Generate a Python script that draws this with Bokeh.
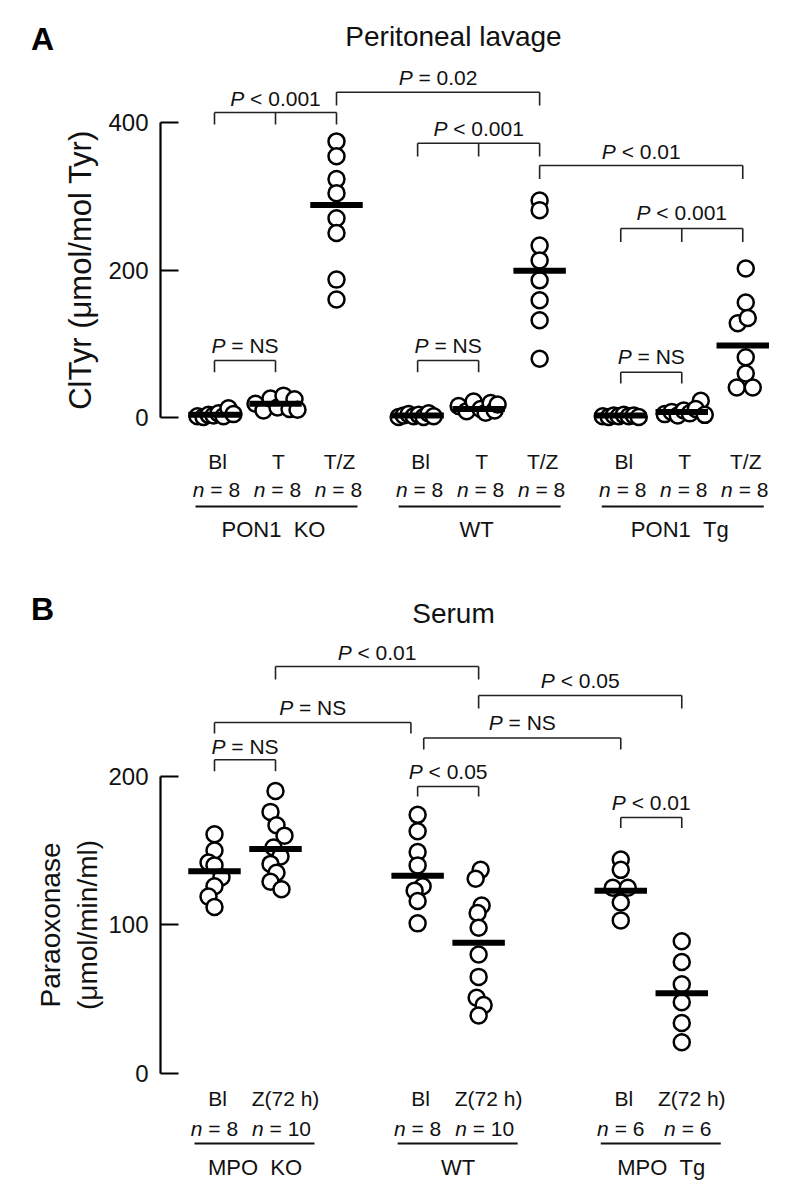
from bokeh.plotting import figure
from bokeh.models import Range1d, LinearAxis, FixedTicker
from bokeh.core.properties import value
from bokeh.embed import file_html
from bokeh.resources import INLINE

# ------------------------------------------------------------------ data
# Panel A: peritoneal lavage ClTyr (umol/mol Tyr)
genotypes_A = ["PON1\u00a0\u00a0KO", "WT", "PON1\u00a0\u00a0Tg"]
treatments_A = ["Bl", "T", "T/Z"]
n_A = [8, 8, 8, 8, 8, 8, 8, 8, 8]
ko_bl = [2, 1, 4, 3, 6, 2, 13, 5]
ko_t = [19, 10, 26, 14, 30, 12, 25, 11]
ko_tz = [374, 354, 323, 304, 270, 250, 187, 160]
wt_bl = [1, 3, 5, 2, 4, 1, 6, 2]
wt_t = [16, 9, 22, 12, 7, 20, 10, 18]
wt_tz = [294, 281, 233, 213, 186, 159, 132, 80]
tg_bl = [2, 1, 3, 2, 4, 2, 3, 1]
tg_t = [5, 8, 3, 10, 6, 23, 12, 4]
tg_tz = [202, 156, 128, 135, 82, 60, 41, 41]
means_A = [4, 19, 288, 3, 12, 199, 3, 8, 98]
# horizontal scatter of overlapping points (pixels)
jit_ko_bl = [-17, -11, -6, -1, 4, 9, 14, 19]
jit_ko_t = [-20, -12, -5, 2, 8, 14, 19, 22]
jit_ko_tz = [0, 0, 0, 0, 0, 0, 0, 0]
jit_wt_bl = [-19, -14, -9, -4, 1, 6, 11, 16]
jit_wt_t = [-20, -12, -5, 2, 7, 12, 16, 19]
jit_wt_tz = [0, 0, 0, 0, 0, 0, 0, 0]
jit_tg_bl = [-18, -12, -7, -2, 3, 8, 13, 18]
jit_tg_t = [-17, -10, -4, 2, 8, 19, 14, 23]
jit_tg_tz = [3, 3, -5, 5, 3, 3, -6, 10]
ticks_A = [0, 200, 400]
pvals_A = ["P < 0.001", "P = 0.02", "P < 0.001", "P < 0.01", "P < 0.001",
           "P = NS", "P = NS", "P = NS"]

# Panel B: serum paraoxonase (umol/min/ml)
genotypes_B = ["MPO\u00a0\u00a0KO", "WT", "MPO\u00a0\u00a0Tg"]
treatments_B = ["Bl", "Z(72 h)"]
n_B = [8, 10, 8, 10, 6, 6]
mko_bl = [161, 150, 142, 140, 132, 126, 119, 112]
mko_z = [190, 176, 167, 160, 152, 146, 141, 135, 129, 124]
mwt_bl = [174, 163, 149, 140, 126, 123, 116, 101]
mwt_z = [137, 131, 113, 108, 98, 80, 65, 51, 46, 39]
mtg_bl = [144, 137, 125, 125, 115, 103]
mtg_z = [89, 75, 60, 48, 34, 21]
means_B = [136, 151, 133, 88, 123, 54]
jit_mko_bl = [0, 0, -6, 0, 7, 0, -6, 0]
jit_mko_z = [0, -5, 1, 9, -2, 5, -5, 1, -5, 6]
jit_mwt_bl = [0, 0, 0, 0, 5, -3, 0, 0]
jit_mwt_z = [2, -3, 3, -1, 0, 0, 0, -2, 5, 0]
jit_mtg_bl = [0, 0, -8, 7, 0, 0]
jit_mtg_z = [0, 0, 0, 0, 0, 0]
ticks_B = [0, 100, 200]
pvals_B = ["P < 0.01", "P < 0.05", "P = NS", "P = NS", "P = NS", "P < 0.05", "P < 0.01"]

# ------------------------------------------------------------------ layout helpers
FONT = "Liberation Sans"
W, H = 781, 1180
ORIGIN = 0         # page offset of the canvas (measured)
PX = 61.0          # pixels per column unit
X0 = 214.0         # page x of first column
GAP = 3.33         # column units between genotype groups
A_Y0, A_K = 417.3, 0.739
B_Y0, B_K = 1073.0, 1.4865


def xd(px):
    return (px - X0) / PX


def ya(py):
    return (A_Y0 - py) / A_K


def yb(py):
    return (B_Y0 - py) / B_K


def col(g, c):
    return g * GAP + c


p = figure(width=W, height=H, output_backend="svg", toolbar_location=None,
           x_range=Range1d(xd(ORIGIN), xd(ORIGIN + W)),
           y_range=Range1d(ya(ORIGIN + H), ya(ORIGIN)),
           x_axis_type=None, y_axis_type=None, min_border=0, title=None)
p.extra_y_ranges = {"b": Range1d(yb(ORIGIN + H), yb(ORIGIN))}
p.outline_line_color = None
p.background_fill_color = "white"
p.border_fill_color = "white"
p.grid.visible = False


def style_axis(axis, label, label_size, standoff):
    axis.axis_line_width = 2.2
    axis.major_tick_line_width = 2.2
    axis.major_tick_in = 18
    axis.major_tick_out = 0
    axis.minor_tick_in = 0
    axis.minor_tick_out = 0
    axis.major_label_text_font = FONT
    axis.major_label_text_font_size = "24px"
    axis.major_label_text_color = "#111"
    axis.major_label_standoff = 12
    axis.axis_label = label
    axis.axis_label_text_font = FONT
    axis.axis_label_text_font_size = label_size
    axis.axis_label_text_font_style = "normal"
    axis.axis_label_text_color = "#111"
    axis.axis_label_standoff = standoff


axA = LinearAxis(y_range_name="default", fixed_location=xd(160), bounds=(ticks_A[0], ticks_A[-1]),
                 ticker=FixedTicker(ticks=ticks_A))
style_axis(axA, "ClTyr (μmol/mol Tyr)", "31px", 7)
p.add_layout(axA, "left")

axB = LinearAxis(y_range_name="b", fixed_location=xd(160), bounds=(ticks_B[0], ticks_B[-1]),
                 ticker=FixedTicker(ticks=ticks_B))
style_axis(axB, "Paraoxonase\n(μmol/min/ml)", "28px", 2)
p.add_layout(axB, "left")

# ------------------------------------------------------------------ points
series_A = [(0, 0, ko_bl, jit_ko_bl), (0, 1, ko_t, jit_ko_t), (0, 2, ko_tz, jit_ko_tz),
            (1, 0, wt_bl, jit_wt_bl), (1, 1, wt_t, jit_wt_t), (1, 2, wt_tz, jit_wt_tz),
            (2, 0, tg_bl, jit_tg_bl), (2, 1, tg_t, jit_tg_t), (2, 2, tg_tz, jit_tg_tz)]
series_B = [(0, 0, mko_bl, jit_mko_bl), (0, 1, mko_z, jit_mko_z),
            (1, 0, mwt_bl, jit_mwt_bl), (1, 1, mwt_z, jit_mwt_z),
            (2, 0, mtg_bl, jit_mtg_bl), (2, 1, mtg_z, jit_mtg_z)]


def draw_series(series, means, rng):
    xs, ys = [], []
    for g, c, vals, jit in series:
        for v, j in zip(vals, jit):
            xs.append(col(g, c) + j / PX)
            ys.append(v)
    p.scatter(x=xs, y=ys, size=16, marker="circle", fill_color="white",
              line_color="black", line_width=2.5, y_range_name=rng)
    mx = [col(g, c) for g, c, _, _ in series]
    p.segment(x0=[m - 0.43 for m in mx], x1=[m + 0.43 for m in mx], y0=means, y1=means,
              line_color="black", line_width=6, y_range_name=rng)


draw_series(series_A, means_A, "default")
draw_series(series_B, means_B, "b")

# ------------------------------------------------------------------ brackets & p labels
CW = {'P': 667, ' ': 278, '<': 584, '=': 584, '.': 278, 'N': 722, 'S': 667, 'n': 556}


def tw(s, fs):
    return sum(CW.get(ch, 556) for ch in s) * fs / 1000.0


def italic_first(labels, xs, ys, rng, fs, color="#111"):
    ws = [tw(s, fs) for s in labels]
    p.text(x=xs, y=ys, text=[s[0] for s in labels], x_offset=[-w / 2 for w in ws],
           text_align="left", text_baseline="middle", text_font=value(FONT),
           text_font_style="italic", text_font_size=f"{fs}px", text_color=color,
           y_range_name=rng)
    rest = [s[1:].lstrip() for s in labels]
    offs = [-w / 2 + tw(s[0], fs) + (tw(" ", fs) if s[1] == " " else 0) for s, w in zip(labels, ws)]
    p.text(x=xs, y=ys, text=rest, x_offset=offs, text_align="left", text_baseline="middle",
           text_font=value(FONT), text_font_size=f"{fs}px", text_color=color, y_range_name=rng)


def draw_brackets(brackets, labels, yf, rng):
    x0, x1, y0, y1, lx, ly = [], [], [], [], [], []
    for (cols, yh, yd, yl) in brackets:
        x0.append(min(cols)); x1.append(max(cols)); y0.append(yf(yh)); y1.append(yf(yh))
        for c in cols:
            x0.append(c); x1.append(c); y0.append(yf(yh)); y1.append(yf(yd))
        lx.append((min(cols) + max(cols)) / 2)
        ly.append(yf(yl))
    p.segment(x0=x0, x1=x1, y0=y0, y1=y1, line_color="#222", line_width=1.6, y_range_name=rng)
    italic_first(labels, lx, ly, rng, 21)


brackets_A = [
    ([col(0, 0), col(0, 1), col(0, 2)], 112, 124, 98),
    ([col(0, 2), col(1, 2)], 91.7, 105, 77),
    ([col(1, 0), col(1, 1), col(1, 2)], 142.7, 156, 128),
    ([col(1, 2), col(2, 2)], 165, 178.5, 151),
    ([col(2, 0), col(2, 1), col(2, 2)], 228, 241.5, 212),
    ([col(0, 0), col(0, 1)], 360, 371.7, 345),
    ([col(1, 0), col(1, 1)], 360, 371.7, 345),
    ([col(2, 0), col(2, 1)], 371.7, 383, 356),
]
draw_brackets(brackets_A, pvals_A, ya, "default")

brackets_B = [
    ([col(0, 1), col(1, 1)], 666, 679, 652),
    ([col(1, 1), col(2, 1)], 695, 708, 680),
    ([col(0, 0), col(1, 0) - 0.11], 722, 733, 707),
    ([col(1, 0) + 0.1, col(2, 0)], 737.5, 749, 722),
    ([col(0, 0), col(0, 1)], 759.3, 770.7, 746),
    ([col(1, 0), col(1, 1)], 786, 796, 771),
    ([col(2, 0), col(2, 1)], 817, 827.5, 802),
]
draw_brackets(brackets_B, pvals_B, yb, "b")

# ------------------------------------------------------------------ category labels
# panel A
tx, tt = [], []
nx, nl = [], []
gx0, gx1, glx = [], [], []
for g in range(3):
    for c, t in enumerate(treatments_A):
        tx.append(col(g, c) + 3 / PX)
        tt.append(t)
        nx.append(col(g, c) + 2 / PX)
        nl.append("n = %d" % n_A[g * 3 + c])
    gx0.append(col(g, 0) - 19 / PX)
    gx1.append(col(g, 2) + 21 / PX)
    glx.append(col(g, 1) - 2 / PX)
p.text(x=tx, y=[ya(461)] * len(tx), text=tt, text_align="center", text_baseline="middle",
       text_font=value(FONT), text_font_size="21px", text_color="#111")
italic_first(nl, nx, [ya(489)] * len(nx), "default", 21)
p.segment(x0=gx0, x1=gx1, y0=[ya(506)] * 3, y1=[ya(506)] * 3, line_color="#111", line_width=2)
p.text(x=glx, y=[ya(529)] * 3, text=genotypes_A, text_align="center", text_baseline="middle",
       text_font=value(FONT), text_font_size="22px", text_color="#111")

# panel B
tx, tt, nx, nl = [], [], [], []
gx0, gx1, glx = [], [], []
for g in range(3):
    for c, t in enumerate(treatments_B):
        tx.append(col(g, c) + (3 if c == 0 else 10) / PX)
        tt.append(t)
        nx.append(col(g, c) + (0 if c == 0 else 6) / PX)
        nl.append("n = %d" % n_B[g * 2 + c])
    gx0.append(col(g, 0) - 20 / PX)
    gx1.append(col(g, 1) + 39 / PX)
    glx.append((col(g, 0) + col(g, 1)) / 2 + 10 / PX)
p.text(x=tx, y=[yb(1098)] * len(tx), text=tt, text_align="center", text_baseline="middle",
       text_font=value(FONT), text_font_size="21px", text_color="#111", y_range_name="b")
italic_first(nl, nx, [yb(1128)] * len(nx), "b", 21)
p.segment(x0=gx0, x1=gx1, y0=[yb(1143)] * 3, y1=[yb(1143)] * 3, line_color="#111",
          line_width=2, y_range_name="b")
p.text(x=glx, y=[yb(1167)] * 3, text=genotypes_B, text_align="center", text_baseline="middle",
       text_font=value(FONT), text_font_size="22px", text_color="#111", y_range_name="b")

# ------------------------------------------------------------------ titles and panel letters
p.text(x=[xd(453)], y=[ya(36)], text=["Peritoneal lavage"], text_align="center",
       text_baseline="middle", text_font=value(FONT), text_font_size="28px", text_color="#111")
p.text(x=[xd(453)], y=[yb(613)], text=["Serum"], text_align="center",
       text_baseline="middle", text_font=value(FONT), text_font_size="28px", text_color="#111",
       y_range_name="b")
p.text(x=[xd(42)], y=[ya(38)], text=["A"], text_align="center", text_baseline="middle",
       text_font=value(FONT), text_font_size="32px", text_font_style="bold", text_color="black")
p.text(x=[xd(42)], y=[yb(608)], text=["B"], text_align="center", text_baseline="middle",
       text_font=value(FONT), text_font_size="32px", text_font_style="bold", text_color="black",
       y_range_name="b")

open("out.html", "w").write(file_html(p, INLINE))
